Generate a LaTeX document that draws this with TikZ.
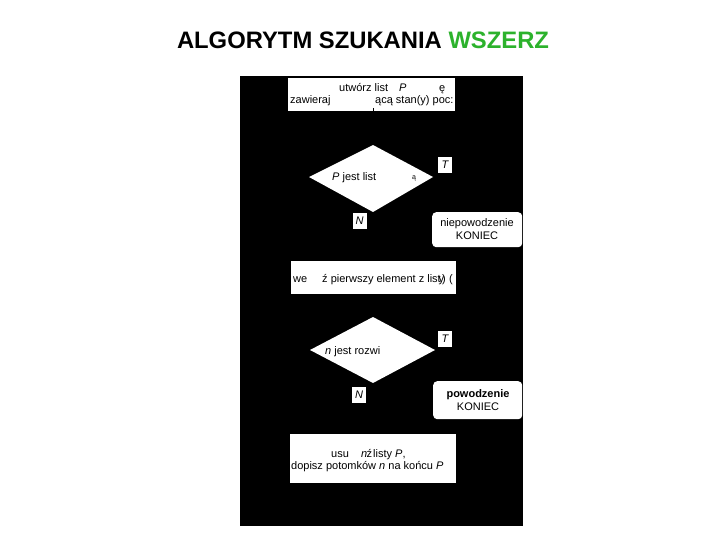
\documentclass[tikz,border=0pt]{standalone}
\usepackage{fontspec}
\setmainfont{Liberation Sans}
\definecolor{titlegreen}{RGB}{44,178,44}
\begin{document}
\begin{tikzpicture}[x=1pt,y=-1pt,
  wbox/.style={fill=white,draw=none,inner sep=0,anchor=north west},
  txt/.style={inner sep=0,anchor=base west,font=\fontsize{11}{13}\selectfont},
  ctxt/.style={inner sep=0,anchor=base,font=\fontsize{11}{13}\selectfont},
  lbl/.style={fill=white,inner sep=0,minimum width=14pt,minimum height=16pt,font=\fontsize{11}{13}\selectfont\itshape},
  endbox/.style={fill=white,rounded corners=4pt,inner sep=0,anchor=north west},
  dec/.style={fill=white,draw=none},
  conn/.style={draw=black,line width=0.6pt}]
\useasboundingbox (0,0) rectangle (720,540);
\fill[white] (0,0) rectangle (720,540);
% title
\node[inner sep=0,anchor=base,font=\fontsize{23.8}{28}\selectfont\bfseries] (title) at (363,49)
  {ALGORYTM SZUKANIA \textcolor{titlegreen}{WSZERZ}};
% black panel
\fill[black] (240,76) rectangle (523,526);
% box 1
\node[wbox,minimum width=167pt,minimum height=33pt] (b1) at (288,78) {};
\node[txt] (b1a) at (339,91.5) {utwórz list};
\node[txt] (b1b) at (399,91.5) {\itshape P};
\node[txt] (b1c) at (439,91.5) {ę};
\node[txt] (b1d) at (290,104) {zawieraj};
\node[txt] (b1e) at (375,104) {ącą stan(y) poc:};
% decision 1
\coordinate (d1top) at (373,145);
\fill[dec] (d1top) -- (433,177) -- (373,212) -- (309,177) -- cycle;
\draw[conn] (373,108) -- (d1top);
\node[txt] (d1a) at (332,180.5) {\itshape P\upshape{} jest list};
\node[txt,font=\fontsize{7}{8}\selectfont] (d1b) at (412,180) {ą};
\node[lbl] (t1) at (445,165) {T};
\node[lbl] (n1) at (359.5,221) {N};
% failure
\node[endbox,minimum width=90pt,minimum height=35pt] (fail) at (432,212) {};
\node[ctxt] (faila) at (477,226) {niepowodzenie};
\node[ctxt] (failb) at (477,239.5) {KONIEC};
% box 2
\node[wbox,minimum width=165pt,minimum height=33pt] (b2) at (291,261) {};
\node[txt] (b2a) at (293,282) {we};
\node[txt] (b2b) at (322,282) {ź pierwszy element z list};
\node[txt] (b2c) at (438.5,282) {y};
\node[txt] (b2d) at (442,282) {)};
\node[txt] (b2e) at (449,282) {(};
% decision 2
\fill[dec] (373,317) -- (435,350) -- (373,383) -- (310,350) -- cycle;
\node[txt] (d2a) at (325,354) {\itshape n\upshape{} jest rozwi};
\node[lbl] (t2) at (445,339) {T};
\node[lbl] (n2) at (359,395) {N};
% success
\node[endbox,minimum width=89pt,minimum height=38pt] (succ) at (433,381) {};
\node[ctxt,font=\fontsize{11}{13}\selectfont\bfseries] (succa) at (478,397) {powodzenie};
\node[ctxt] (succb) at (478,410.5) {KONIEC};
% box 3
\node[wbox,minimum width=166pt,minimum height=49pt] (b3) at (290,434) {};
\node[txt] (b3a) at (331,457) {usu};
\node[txt] (b3b) at (361,457) {\itshape n};
\node[txt] (b3c) at (366.5,457) {ź};
\node[txt] (b3d) at (373,457) {listy \itshape P\upshape ,};
\node[txt] (b3e) at (291,469.5) {dopisz potomków \itshape n\upshape{} na końcu \itshape P};
\end{tikzpicture}
\end{document}
